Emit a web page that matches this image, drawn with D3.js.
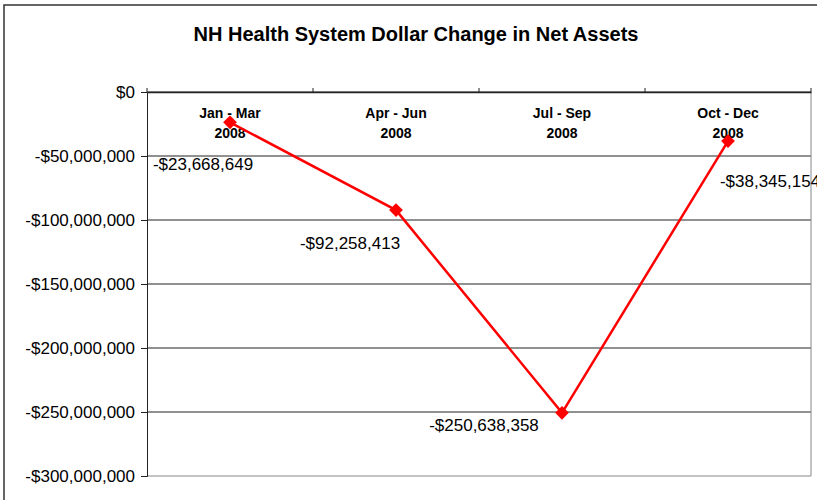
<!DOCTYPE html>
<html>
<head>
<meta charset="utf-8">
<title>NH Health System Dollar Change in Net Assets</title>
<script src="https://cdn.jsdelivr.net/npm/d3@7/dist/d3.min.js"></script>
<style>
  body { margin: 0; background: #fff; }
  text { font-family: Arial, "Liberation Sans", sans-serif; }
</style>
</head>
<body>
<svg width="817" height="500"></svg>
<script>
// données
var quarters = ["Jan - Mar", "Apr - Jun", "Jul - Sep", "Oct - Dec"];
var years = ["2008", "2008", "2008", "2008"];
var netChange = [-23668649, -92258413, -250638358, -38345154];
var yTicks = [0, -50000000, -100000000, -150000000, -200000000, -250000000, -300000000];
// décalage des étiquettes de valeur (style)
var labelDx = [-27, -46, -78, 42];
var labelDy = [48, 39, 18, 46];

var svg = d3.select("svg");

// cadre
svg.append("rect")
  .attr("x", 4).attr("y", 5).attr("width", 830).attr("height", 520)
  .attr("fill", "none").attr("stroke", "#333").attr("stroke-width", 1.5);

svg.append("text")
  .attr("x", 416).attr("y", 41)
  .attr("text-anchor", "middle")
  .attr("font-size", 20).attr("font-weight", "bold")
  .text("NH Health System Dollar Change in Net Assets");

var pLeft = 147, pRight = 811, pTop = 92, pBottom = 476;

var x = d3.scaleBand().domain(d3.range(quarters.length)).range([pLeft, pRight]);
var y = d3.scaleLinear().domain([-300000000, 0]).range([pBottom, pTop]);

var fmt = function (v) {
  return v === 0 ? "$0" : "-$" + d3.format(",")(Math.abs(v));
};

// grille
svg.append("g").selectAll("line")
  .data(yTicks.filter(function (d) { return d > -300000000; }))
  .enter().append("line")
  .attr("x1", pLeft).attr("x2", pRight)
  .attr("y1", function (d) { return y(d); })
  .attr("y2", function (d) { return y(d); })
  .attr("stroke", "#222").attr("stroke-width", 1);

// bordure du graphe
svg.append("line").attr("x1", pRight).attr("x2", pRight).attr("y1", pTop).attr("y2", pBottom)
  .attr("stroke", "#888").attr("stroke-width", 1);
svg.append("line").attr("x1", pLeft).attr("x2", pRight).attr("y1", pBottom).attr("y2", pBottom)
  .attr("stroke", "#888").attr("stroke-width", 1);

// axe Y
var yAxis = d3.axisLeft(y).tickValues(yTicks).tickFormat(fmt).tickSize(6).tickPadding(6);
var gy = svg.append("g").attr("transform", "translate(" + pLeft + ",0)").call(yAxis);
gy.select(".domain").attr("stroke", "#222");
gy.selectAll(".tick line").attr("stroke", "#222");
gy.selectAll("text").attr("font-size", 17).attr("fill", "#000")
  .attr("font-family", "Arial, 'Liberation Sans', sans-serif");

// axe X en haut (y = 0)
var xAxis = d3.axisTop(x).tickSize(0).tickFormat("");
var gx = svg.append("g").attr("transform", "translate(0," + y(0) + ")").call(xAxis);
gx.select(".domain").attr("stroke", "#222").attr("stroke-width", 1.5);
svg.append("g").selectAll("line")
  .data(d3.range(quarters.length + 1))
  .enter().append("line")
  .attr("x1", function (d) { return pLeft + d * x.step(); })
  .attr("x2", function (d) { return pLeft + d * x.step(); })
  .attr("y1", y(0) - 4).attr("y2", y(0))
  .attr("stroke", "#222");

var cat = svg.append("g").selectAll("text")
  .data(quarters)
  .enter().append("text")
  .attr("x", function (d, i) { return x(i) + x.bandwidth() / 2; })
  .attr("y", y(0) + 26)
  .attr("text-anchor", "middle")
  .attr("font-size", 14).attr("font-weight", "bold");
cat.append("tspan").text(function (d) { return d; });
cat.append("tspan")
  .attr("x", function (d, i) { return x(i) + x.bandwidth() / 2; })
  .attr("dy", 20)
  .text(function (d, i) { return years[i]; });

// ligne
var ligne = d3.line()
  .x(function (d, i) { return x(i) + x.bandwidth() / 2; })
  .y(function (d) { return y(d); });

svg.append("path")
  .datum(netChange)
  .attr("d", ligne)
  .attr("fill", "none")
  .attr("stroke", "#ff0000")
  .attr("stroke-width", 2.5);

svg.append("g").selectAll("path")
  .data(netChange)
  .enter().append("path")
  .attr("d", d3.symbol().type(d3.symbolDiamond2).size(120))
  .attr("transform", function (d, i) {
    return "translate(" + (x(i) + x.bandwidth() / 2) + "," + y(d) + ")";
  })
  .attr("fill", "#ff0000");

// étiquettes
svg.append("g").selectAll("text")
  .data(netChange)
  .enter().append("text")
  .attr("x", function (d, i) { return x(i) + x.bandwidth() / 2 + labelDx[i]; })
  .attr("y", function (d, i) { return y(d) + labelDy[i]; })
  .attr("text-anchor", "middle")
  .attr("font-size", 17)
  .text(fmt);
</script>
</body>
</html>
